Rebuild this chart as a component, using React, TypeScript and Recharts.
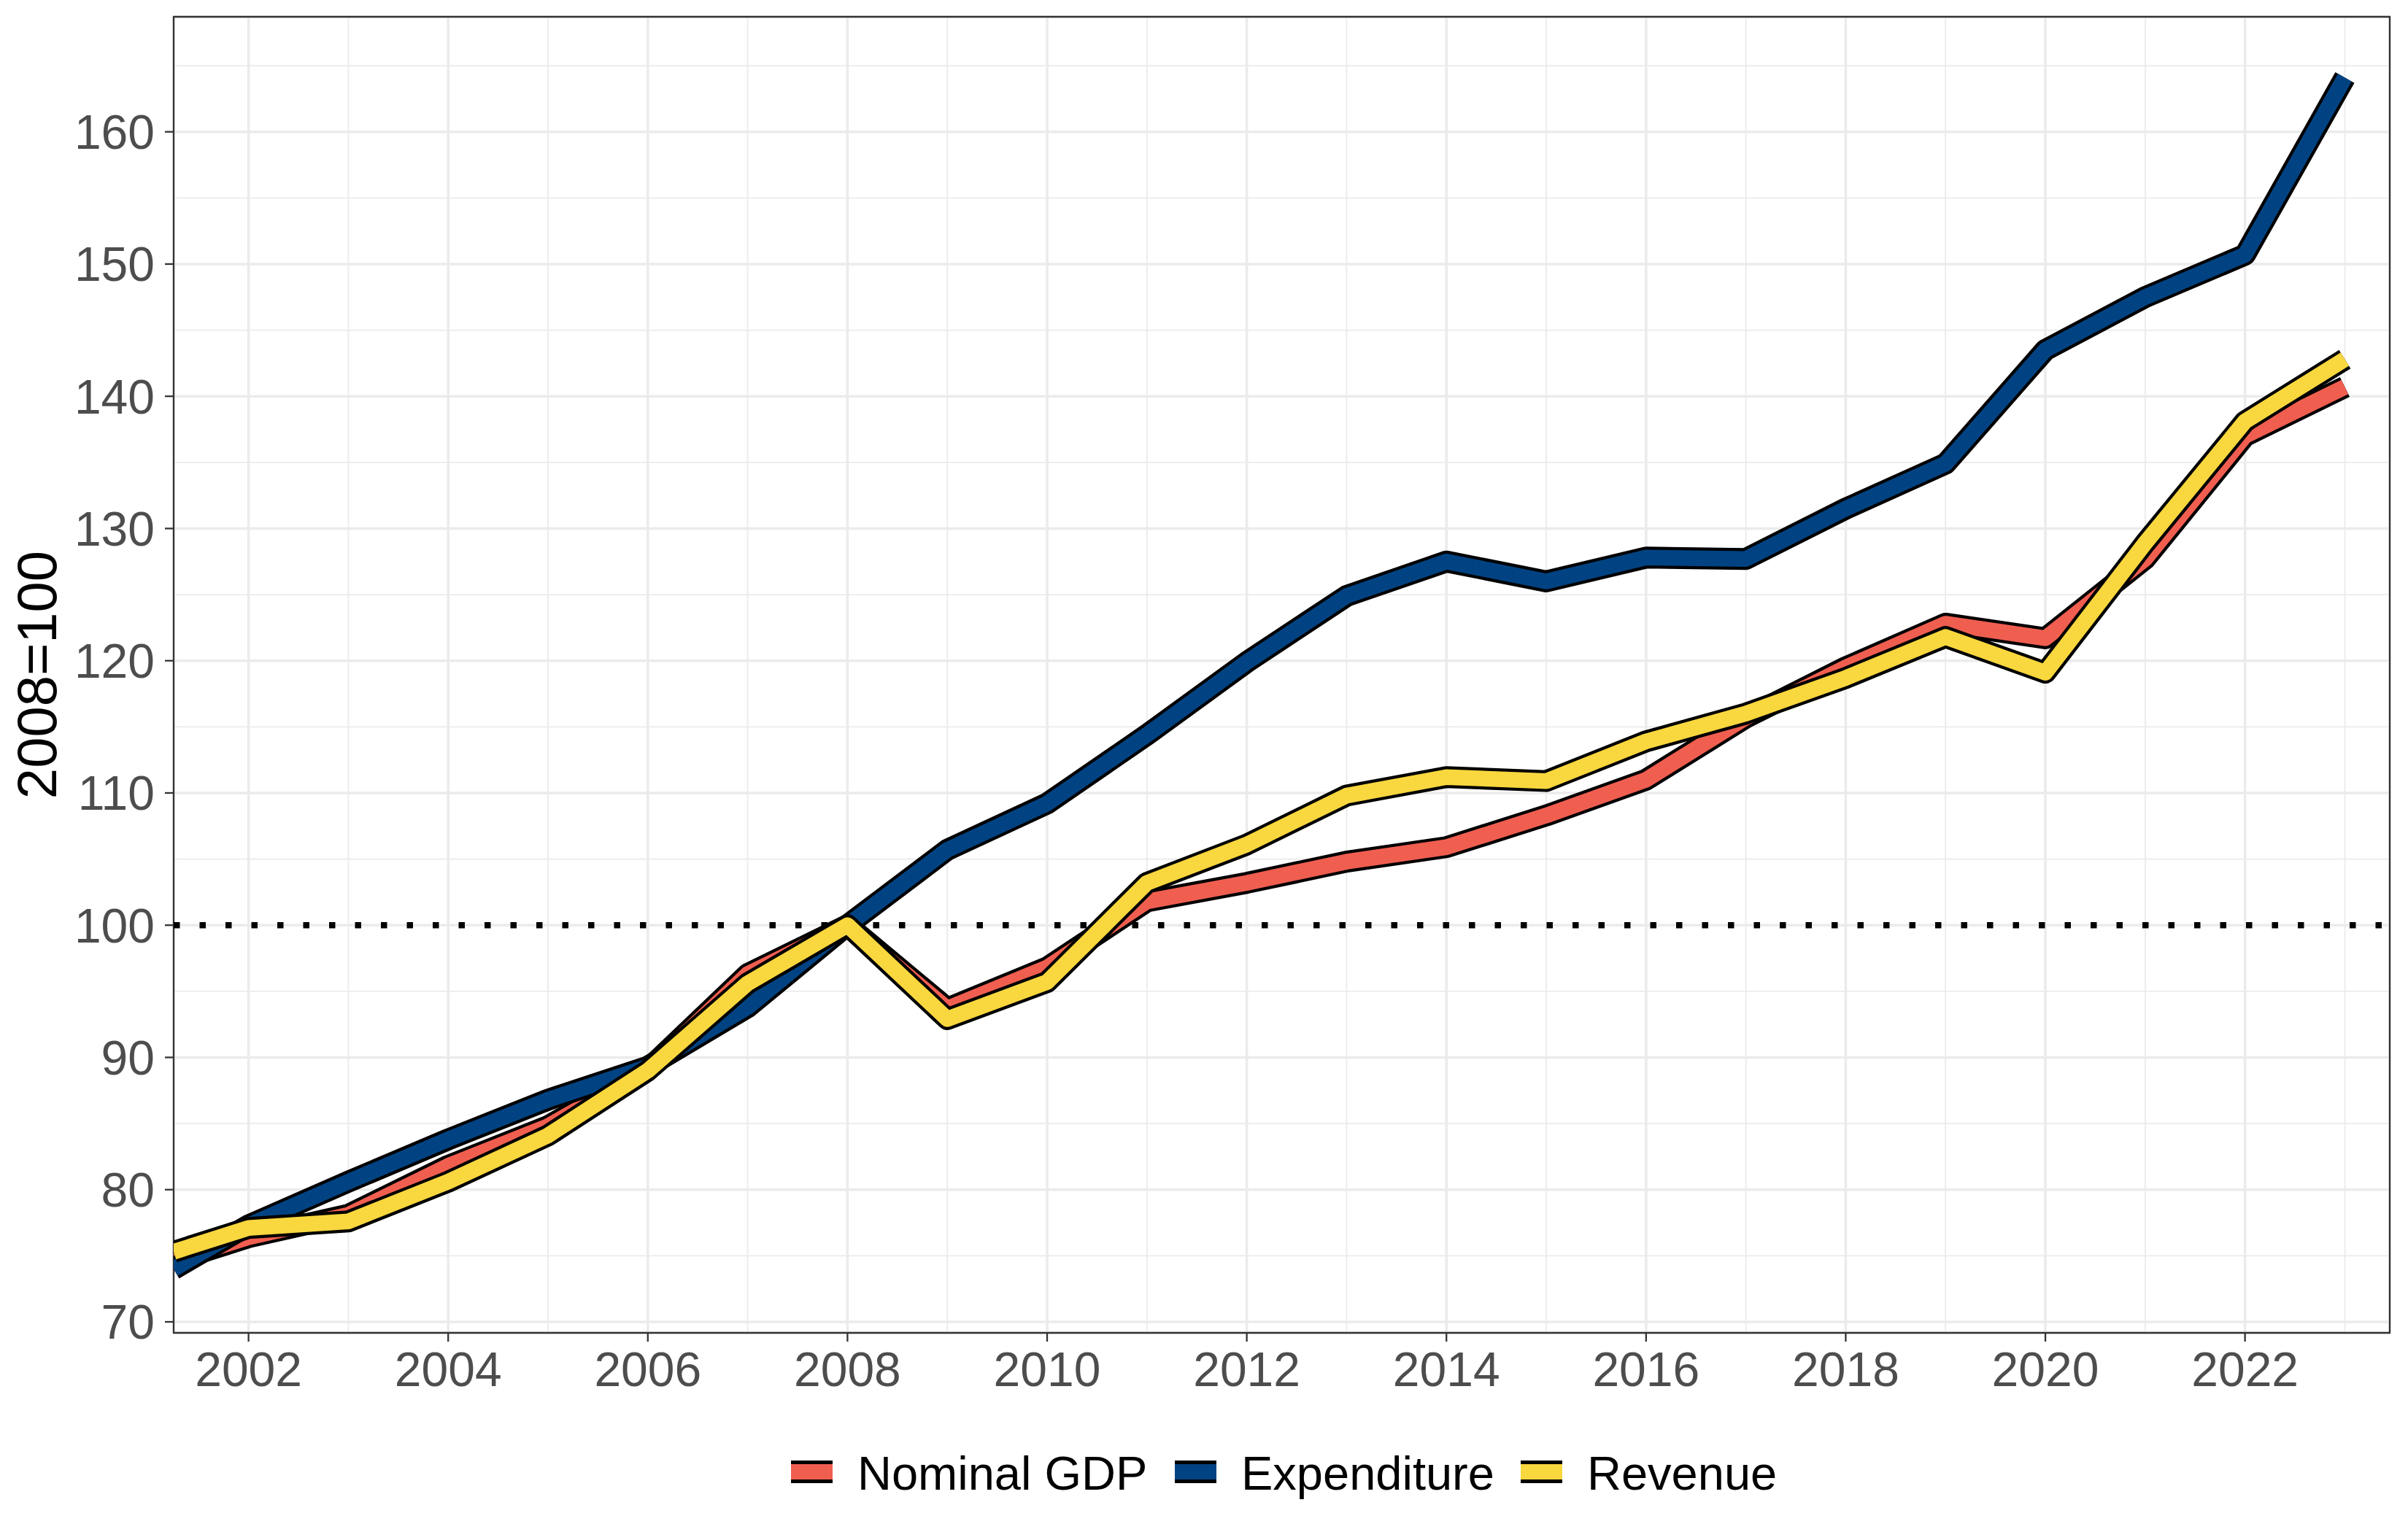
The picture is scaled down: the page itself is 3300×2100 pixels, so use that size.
import React from "react";
import {
  LineChart,
  Line,
  XAxis,
  YAxis,
  CartesianGrid,
  ReferenceLine,
  ReferenceArea,
} from "recharts";

// years (first point sits at the left edge of the panel)
const years = [
  2001.25, 2002, 2003, 2004, 2005, 2006, 2007, 2008, 2009, 2010, 2011, 2012,
  2013, 2014, 2015, 2016, 2017, 2018, 2019, 2020, 2021, 2022, 2023,
];

const nominalGdp = [
  74.6, 76.4, 78.1, 81.8, 84.8, 89.1, 96.3, 100.0, 93.7, 96.8, 101.8, 103.2,
  104.8, 105.9, 108.3, 111.0, 115.7, 119.5, 122.8, 121.7, 127.7, 137.0, 140.7,
];

const expenditure = [
  74.0, 77.3, 80.6, 83.8, 86.8, 89.3, 93.8, 100.0, 105.7, 109.2, 114.4, 119.9,
  124.9, 127.5, 126.0, 127.8, 127.7, 131.5, 134.9, 143.5, 147.5, 150.7, 164.1,
];

const revenue = [
  75.3, 77.1, 77.6, 80.6, 84.1, 89.0, 95.6, 100.0, 92.9, 95.7, 103.2, 106.1,
  109.8, 111.2, 110.9, 113.9, 116.0, 118.7, 121.8, 119.1, 128.9, 138.1, 142.8,
];

const xTicks = [2002, 2004, 2006, 2008, 2010, 2012, 2014, 2016, 2018, 2020, 2022];
const xMinor = [2003, 2005, 2007, 2009, 2011, 2013, 2015, 2017, 2019, 2021, 2023];
const yTicks = [70, 80, 90, 100, 110, 120, 130, 140, 150, 160];
const yMinor = [75, 85, 95, 105, 115, 125, 135, 145, 155, 165];

const xDomain = [2001.25, 2023.45];
const yDomain = [69.17, 168.7];

const series = [
  { key: "gdp", name: "Nominal GDP", color: "#F05E50" },
  { key: "exp", name: "Expenditure", color: "#014382" },
  { key: "rev", name: "Revenue", color: "#F9D73E" },
];

const data = years.map((year, i) => ({
  year,
  gdp: nominalGdp[i],
  exp: expenditure[i],
  rev: revenue[i],
}));

const FONT = "'Liberation Sans', Arial, Helvetica, sans-serif";
const GRID = "#EBEBEB";

function YTitle({ viewBox }: any) {
  const cx = 77;
  const cy = viewBox.y + viewBox.height / 2;
  return (
    <text
      x={cx}
      y={cy}
      transform={`rotate(-90, ${cx}, ${cy})`}
      textAnchor="middle"
      fontSize={76}
      fontFamily={FONT}
      fill="#000"
    >
      2008=100
    </text>
  );
}

function LegendBar() {
  const keyX = [1084, 1610, 2084];
  return (
    <svg
      width={3300}
      height={140}
      style={{ position: "absolute", left: 0, top: 1960 }}
    >
      {series.map((s, i) => (
        <g key={s.key}>
          <rect x={keyX[i]} y={42} width={57} height={31} fill="#000" />
          <rect x={keyX[i]} y={47} width={57} height={21} fill={s.color} />
          <text
            x={keyX[i] + 91}
            y={82}
            fontSize={65}
            fontFamily={FONT}
            fill="#000"
          >
            {s.name}
          </text>
        </g>
      ))}
    </svg>
  );
}

export default function App() {
  return (
    <div
      style={{
        position: "absolute",
        left: 0,
        top: 0,
        width: 3300,
        height: 2100,
        background: "#fff",
        fontFamily: FONT,
      }}
    >
      <LineChart
        width={3300}
        height={2100}
        data={data}
        margin={{ top: 23, right: 25, bottom: 0, left: 0 }}
      >
        {/* minor grid */}
        <CartesianGrid
          stroke={GRID}
          strokeWidth={1.8}
          horizontalValues={yMinor}
          verticalValues={xMinor}
        />
        {/* major grid */}
        <CartesianGrid stroke={GRID} strokeWidth={3.5} />
        <XAxis
          dataKey="year"
          type="number"
          domain={xDomain}
          allowDataOverflow
          ticks={xTicks}
          height={273}
          axisLine={false}
          tickSize={12}
          tickMargin={14}
          tickLine={{ stroke: "#333333", strokeWidth: 2.3 }}
          tick={{ fontSize: 66, fill: "#4D4D4D", fontFamily: FONT }}
          interval={0}
        />
        <YAxis
          type="number"
          domain={yDomain}
          allowDataOverflow
          ticks={yTicks}
          width={238}
          axisLine={false}
          tickSize={12}
          tickMargin={14}
          tickLine={{ stroke: "#333333", strokeWidth: 2.3 }}
          tick={{ fontSize: 66, fill: "#4D4D4D", fontFamily: FONT }}
          interval={0}
          label={<YTitle />}
        />
        <ReferenceLine
          y={100}
          stroke="#000"
          strokeWidth={8.5}
          strokeDasharray="8.5 27"
        />
        {series.map((s) => [
          <Line
            key={s.key + "-outline"}
            type="linear"
            dataKey={s.key}
            stroke="#000"
            strokeWidth={30}
            strokeLinejoin="round"
            strokeLinecap="butt"
            dot={false}
            activeDot={false}
            legendType="none"
            isAnimationActive={false}
          />,
          <Line
            key={s.key}
            type="linear"
            dataKey={s.key}
            name={s.name}
            stroke={s.color}
            strokeWidth={21.5}
            strokeLinejoin="round"
            strokeLinecap="butt"
            dot={false}
            activeDot={false}
            isAnimationActive={false}
          />,
        ])}
        <ReferenceArea
          x1={xDomain[0]}
          x2={xDomain[1]}
          y1={yDomain[0]}
          y2={yDomain[1]}
          fill="none"
          fillOpacity={0}
          stroke="#333333"
          strokeWidth={2.3}
        />
      </LineChart>
      <LegendBar />
    </div>
  );
}
